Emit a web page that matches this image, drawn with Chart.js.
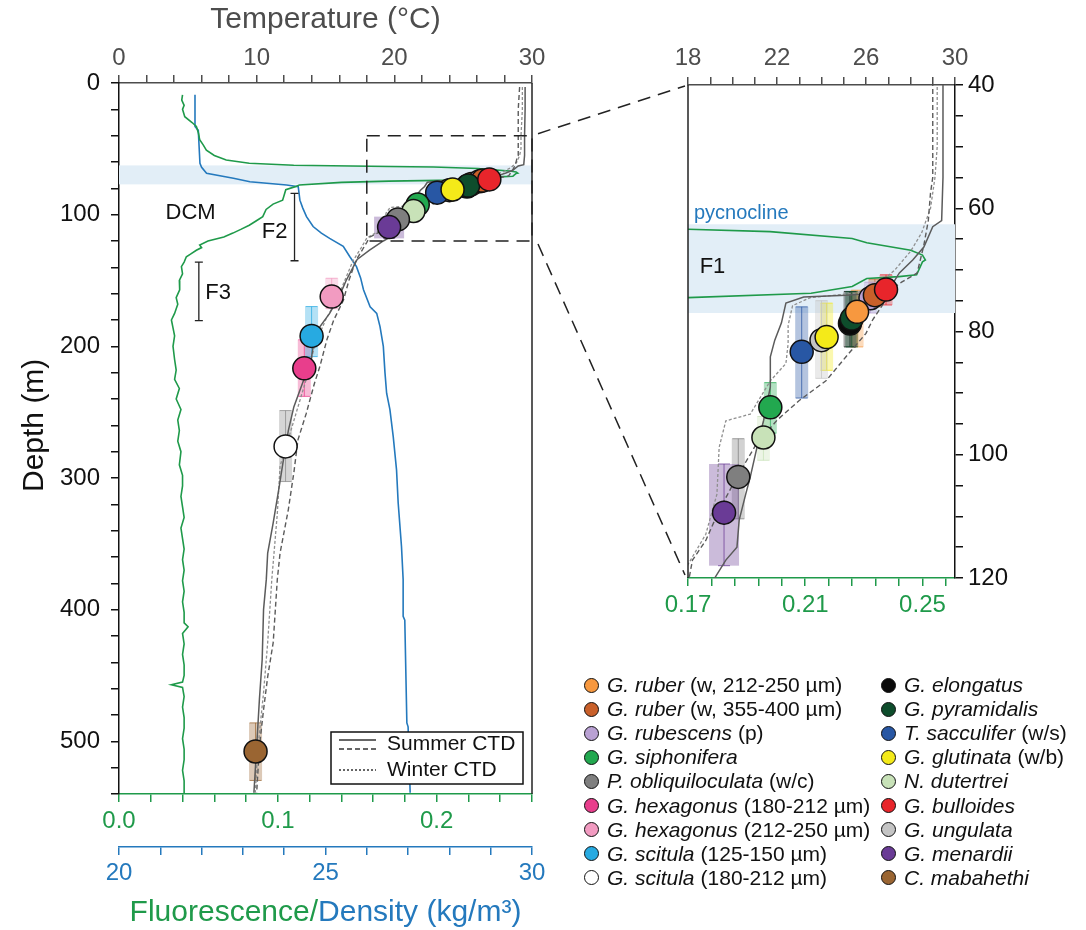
<!DOCTYPE html>
<html>
<head>
<meta charset="utf-8">
<script src="https://cdn.jsdelivr.net/npm/chart.js@4.4.1/dist/chart.umd.min.js"></script>
<style>
  body { margin: 0; background: #fff; width: 1086px; height: 930px; position: relative; overflow: hidden;
         font-family: "Liberation Sans", Arial, sans-serif; }
  #left { position: absolute; left: 0; top: 0; }
  #right { position: absolute; left: 560px; top: 0; }
  #links { position: absolute; left: 0; top: 0; pointer-events: none; }
  .item { position: absolute; height: 24px; line-height: 24px; font-size: 21px; color: #111; white-space: nowrap;
          display: flex; align-items: center; }
  .dot { width: 13px; height: 13px; border: 1.5px solid #111; border-radius: 50%; margin-right: 8px; display: inline-block; }
  .item i { margin-right: 6px; }
</style>
</head>
<body>
<canvas id="left" width="560" height="930"></canvas>
<canvas id="right" width="526" height="640"></canvas>
<canvas id="links" width="1086" height="930"></canvas>
<div id="legend"></div>
<script>
// ---- CTD temperature profiles (depth m / temperature °C) ----
const summerSolidDepth = [3, 20, 40, 55, 62, 63, 66.3, 68.4, 70.5, 72.8, 73.8, 74.1, 74.4, 75.4, 78.6, 81.4, 84.1, 89, 94.4, 98.8, 103.6, 106.3, 110.6, 115, 117.1, 120, 127, 134, 140, 150, 162, 175, 185, 200, 215, 226, 246, 264, 289, 309, 334, 357, 377, 400, 438, 468, 504, 539];
const summerSolidTemp = [29.5, 29.5, 29.46, 29.46, 29.4, 29.0, 28.6, 28.1, 27.5, 27.1, 26.3, 25.1, 23.2, 22.4, 22.2, 21.9, 21.7, 21.7, 21.4, 21.1, 20.8, 20.6, 20.3, 20.2, 19.7, 19.2, 18.2, 17.3, 17.0, 16.5, 16.0, 15.3, 14.6, 14.1, 13.9, 13.4, 12.7, 12.3, 11.9, 11.6, 11.2, 10.8, 10.7, 10.5, 10.4, 10.2, 10.0, 9.8];

const summerDashDepth = [3, 20, 40, 55, 57.5, 62, 66, 70.5, 72, 73, 75.4, 78.1, 80.3, 84.1, 88, 91.2, 94.4, 98.1, 103.6, 109, 113.9, 117.1, 121, 128, 135, 150, 165, 180, 195, 215, 228, 251, 271, 296, 324, 357, 377, 425, 451, 476, 504, 539];
const summerDashTemp = [29.1, 29.0, 29.0, 29.0, 28.9, 28.8, 28.6, 28.3, 27.6, 27.2, 26.8, 26.3, 26.0, 25.1, 24.2, 23.0, 22.0, 21.1, 20.2, 19.4, 18.8, 18.2, 18.0, 17.6, 17.2, 16.7, 16.3, 15.6, 15.1, 14.6, 14.2, 13.6, 13.0, 12.7, 12.3, 11.7, 11.5, 11.2, 10.8, 10.5, 10.2, 10.0];

const winterDepth = [3, 20, 40, 50, 55, 60, 64, 67, 70, 72.5, 73.8, 74.5, 75.8, 79, 82, 85.2, 88, 93.4, 94.5, 98.8, 106.4, 112.9, 117.8, 125, 135, 150, 165, 180, 200, 225, 260, 291, 327, 377, 425, 463, 504, 539];
const winterTemp = [29.3, 29.3, 29.2, 29.2, 29.1, 28.9, 28.5, 28.0, 27.3, 26.5, 25.5, 23.5, 22.7, 22.5, 22.5, 22.4, 21.7, 20.8, 19.7, 19.4, 19.3, 18.8, 18.0, 17.6, 17.0, 16.4, 15.8, 15.0, 14.2, 13.6, 12.6, 11.7, 11.5, 11.1, 10.8, 10.5, 10.1, 9.9];

// ---- fluorescence profile ----
const fluoDepth = [9, 13, 17, 20, 25.6, 30, 33, 38, 43, 47, 51, 55, 58.5, 61, 62.5, 63.4, 63.8, 64.9, 65.6, 66.8, 67.6, 68.4, 68.7, 70.8, 71.1, 71.4, 72.7, 73.8, 74.5, 75.5, 77.5, 78.7, 81, 85, 89, 92, 96, 101.5, 105, 108, 111, 114, 117, 120, 123, 125, 127, 130, 132, 136, 139.5, 145, 150, 157, 163, 168, 175, 180, 186, 192, 200, 210, 218, 225, 232, 240, 248, 256, 264, 272, 280, 290, 298, 306, 314, 322, 330, 338, 346, 354, 362, 370, 378, 386, 394, 402, 410, 413, 418, 426, 434, 442, 450, 455, 457, 459, 466, 474, 482, 490, 498, 506, 514, 522, 530, 540];
const fluoValue = [0.040, 0.0395, 0.041, 0.040, 0.0414, 0.046, 0.0487, 0.050, 0.0508, 0.053, 0.055, 0.060, 0.0675, 0.082, 0.110, 0.170, 0.198, 0.226, 0.231, 0.246, 0.250, 0.251, 0.250, 0.248, 0.242, 0.231, 0.226, 0.212, 0.170, 0.140, 0.1135, 0.111, 0.105, 0.104, 0.103, 0.097, 0.0926, 0.0905, 0.086, 0.082, 0.077, 0.0717, 0.066, 0.056, 0.0508, 0.052, 0.0487, 0.045, 0.0424, 0.041, 0.0393, 0.040, 0.038, 0.0382, 0.036, 0.037, 0.035, 0.033, 0.034, 0.035, 0.034, 0.035, 0.036, 0.035, 0.038, 0.036, 0.039, 0.037, 0.038, 0.037, 0.039, 0.038, 0.040, 0.040, 0.039, 0.040, 0.041, 0.039, 0.040, 0.041, 0.040, 0.041, 0.040, 0.041, 0.040, 0.041, 0.041, 0.0435, 0.040, 0.041, 0.040, 0.041, 0.041, 0.040, 0.033, 0.040, 0.041, 0.040, 0.041, 0.041, 0.040, 0.041, 0.041, 0.040, 0.041, 0.041];

// ---- density profile (kg/m3) ----
const densDepth = [9, 33, 36, 61, 64, 68.6, 72.4, 75, 77.5, 78.7, 89, 95, 101.5, 109, 114, 118, 124, 132, 139.5, 148, 157, 170, 175, 185, 200, 220, 235.6, 248, 268.6, 293.8, 319, 352, 377, 405, 408, 486, 489, 539];
const densValue = [21.84, 21.84, 21.92, 21.96, 22.0, 22.12, 22.77, 23.17, 24.06, 24.34, 24.38, 24.45, 24.54, 24.7, 24.9, 25.1, 25.43, 25.59, 25.75, 25.85, 25.92, 26.08, 26.24, 26.32, 26.4, 26.44, 26.48, 26.56, 26.64, 26.72, 26.76, 26.84, 26.88, 26.88, 26.92, 26.97, 27.0, 27.05];

// ---- foraminifera species: calcification temperature & depth ----
const spName = ['G. ruber', 'G. ruber', 'G. rubescens', 'G. siphonifera', 'P. obliquiloculata', 'G. hexagonus', 'G. hexagonus', 'G. scitula', 'G. scitula',
                'G. elongatus', 'G. pyramidalis', 'T. sacculifer', 'G. glutinata', 'N. dutertrei', 'G. bulloides', 'G. ungulata', 'G. menardii', 'C. mabahethi'];
const spNote = ['(w, 212-250 µm)', '(w, 355-400 µm)', '(p)', '', '(w/c)', '(180-212 µm)', '(212-250 µm)', '(125-150 µm)', '(180-212 µm)',
                '', '', '(w/s)', '(w/b)', '', '', '', '', ''];
const spColor = ['#f7983f', '#c9602a', '#b9a1d3', '#22a84f', '#7f7f7f', '#e83e8c', '#f29bc1', '#27aae1', '#ffffff',
                 '#0a0a0a', '#0e4d2c', '#2857a4', '#f4ea19', '#c8e2b8', '#e8252b', '#c4c4c4', '#6a3b96', '#9a6532'];
const spTemp = [25.6, 26.4, 26.2, 21.7, 20.26, 13.46, 15.45, 13.99, 12.1, 25.28, 25.36, 23.11, 24.23, 21.39, 26.9, 24.0, 19.62, 9.92];
const spDepth = [76.8, 74.1, 74.6, 92.3, 103.6, 216.7, 162.2, 192.1, 276, 78.7, 77.9, 83.3, 80.9, 97.2, 73.2, 81.4, 109.4, 507.7];
const spDepthMin = [73.3, 71.5, 72, 88.3, 97.4, 195, 148.3, 169.8, 248.8, 73.5, 73.5, 76, 75.4, 93.8, 70.8, 75, 101.5, 486];
const spDepthMax = [82.5, 76, 77, 96.5, 110.4, 238, 171.4, 207.8, 302.7, 82.5, 82.5, 90.8, 86.3, 100.9, 75.7, 87.6, 118, 529.7];

// pycnocline band and zoom window
const pycnoTop = 62.6, pycnoBottom = 77;
const zoomTemp = [18, 30], zoomDepth = [40, 120];

// stacking of the circles, bottom -> top
const leftStack = [9, 0, 15, 2, 1, 10, 11, 12, 14, 3, 13, 4, 16, 6, 7, 5, 8, 17];
const rightStack = [9, 10, 15, 12, 11, 2, 1, 0, 14, 3, 13, 4, 16, 6, 7, 5, 8, 17];

const GREEN = '#1f9a4a', BLUE = '#2479bd', GRAY = '#4d4d4d', INK = '#111';
const FONT = '"Liberation Sans", Arial, sans-serif';
Chart.defaults.font.family = FONT;

function steps(a, b, step) {
  const out = [];
  for (let k = 0; a + k * step <= b + 1e-9; k++) out.push(+(a + k * step).toFixed(4));
  return out;
}
function rgba(hex, al) {
  const n = parseInt(hex.slice(1), 16);
  return `rgba(${n >> 16},${(n >> 8) & 255},${n & 255},${al})`;
}
function profile(depths, values, axis, color, dash, width, order) {
  return {
    data: depths.map((d, i) => ({ x: values[i], y: d })), xAxisID: axis, yAxisID: 'y',
    showLine: true, pointRadius: 0, borderColor: color, borderWidth: width, borderDash: dash, tension: 0, order
  };
}
function speciesSets(stack) {
  return spName.map((n, i) => ({
    data: [{ x: spTemp[i], y: spDepth[i] }], xAxisID: 't', yAxisID: 'y',
    pointRadius: 11.5, pointBackgroundColor: spColor[i], pointBorderColor: INK, pointBorderWidth: 1.5,
    showLine: false, order: 50 - stack.indexOf(i)
  }));
}
function axis(o) {
  return {
    type: 'linear', position: o.pos, min: o.min, max: o.max, reverse: !!o.reverse, weight: o.weight || 0,
    afterBuildTicks: s => { s.ticks = o.ticks.map(v => ({ value: v })); },
    afterFit: s => { if (o.pos === 'top' || o.pos === 'bottom') s.height = o.size; else s.width = o.size; },
    ticks: { autoSkip: false, maxRotation: 0, padding: o.pad, color: o.color, font: { size: 24 }, callback: o.label },
    grid: { drawOnChartArea: false, tickLength: 8, color: o.color, lineWidth: 1.5 },
    border: { color: o.color, width: 1.5 },
    title: o.title || { display: false }
  };
}

// shaded band + depth-range bars under the data
const bandBars = {
  id: 'bandBars',
  beforeDatasetsDraw(chart) {
    const { ctx, chartArea: a, scales: { t, y } } = chart;
    ctx.save();
    ctx.beginPath(); ctx.rect(a.left, a.top, a.right - a.left, a.bottom - a.top); ctx.clip();
    const yb0 = y.getPixelForValue(pycnoTop), yb1 = y.getPixelForValue(pycnoBottom);
    ctx.fillStyle = '#e2eef7';
    ctx.fillRect(a.left, yb0, a.right - a.left, yb1 - yb0);
    spName.forEach((n, i) => {
      const col = spColor[i] === '#ffffff' ? '#8a8a8a' : spColor[i];
      const x = t.getPixelForValue(spTemp[i]);
      const y0 = y.getPixelForValue(spDepthMin[i]), y1 = y.getPixelForValue(spDepthMax[i]);
      const hw = n === 'G. menardii' ? 15 : 6.5;
      ctx.fillStyle = rgba(col, 0.35);
      ctx.fillRect(x - hw, y0, hw * 2, y1 - y0);
      ctx.strokeStyle = rgba(col, 0.75); ctx.lineWidth = 1;
      ctx.beginPath();
      ctx.moveTo(x, y0); ctx.lineTo(x, y1);
      ctx.moveTo(x - 6, y0); ctx.lineTo(x + 6, y0);
      ctx.moveTo(x - 6, y1); ctx.lineTo(x + 6, y1);
      ctx.stroke();
    });
    ctx.restore();
  }
};

function text(ctx, s, x, y, size, color, align) {
  ctx.font = `${size}px ${FONT}`; ctx.fillStyle = color;
  ctx.textAlign = align || 'center'; ctx.textBaseline = 'middle';
  ctx.fillText(s, x, y);
}
function bracket(ctx, x, y0, y1) {
  ctx.strokeStyle = '#222'; ctx.lineWidth = 1.3;
  ctx.beginPath();
  ctx.moveTo(x, y0); ctx.lineTo(x, y1);
  ctx.moveTo(x - 4, y0); ctx.lineTo(x + 4, y0);
  ctx.moveTo(x - 4, y1); ctx.lineTo(x + 4, y1);
  ctx.stroke();
}

const leftDecor = {
  id: 'leftDecor',
  afterDraw(chart) {
    const { ctx, chartArea: a, scales: { t, y } } = chart;
    ctx.save();
    // right frame
    ctx.strokeStyle = '#222'; ctx.lineWidth = 1.5;
    ctx.beginPath(); ctx.moveTo(a.right, a.top); ctx.lineTo(a.right, a.bottom); ctx.stroke();
    // zoom window
    ctx.setLineDash([13, 8]); ctx.lineWidth = 1.5; ctx.strokeStyle = '#222';
    const zx0 = t.getPixelForValue(zoomTemp[0]), zx1 = t.getPixelForValue(zoomTemp[1]);
    const zy0 = y.getPixelForValue(zoomDepth[0]), zy1 = y.getPixelForValue(zoomDepth[1]);
    ctx.strokeRect(zx0, zy0, zx1 - zx0, zy1 - zy0);
    ctx.setLineDash([]);
    // labels
    text(ctx, 'DCM', t.getPixelForValue(5.2), y.getPixelForValue(98.7), 22, INK);
    bracket(ctx, t.getPixelForValue(12.75), y.getPixelForValue(83.8), y.getPixelForValue(135));
    text(ctx, 'F2', t.getPixelForValue(11.3), y.getPixelForValue(113), 22, INK);
    bracket(ctx, t.getPixelForValue(5.8), y.getPixelForValue(136), y.getPixelForValue(180.5));
    text(ctx, 'F3', t.getPixelForValue(7.2), y.getPixelForValue(159.5), 22, INK);
    // depth title
    ctx.save();
    ctx.translate(35, y.getPixelForValue(260));
    ctx.rotate(-Math.PI / 2);
    text(ctx, 'Depth (m)', 0, 0, 30, INK);
    ctx.restore();
    // CTD legend box
    const bx = a.right - 201, by = a.bottom - 62, bw = 192, bh = 52;
    ctx.fillStyle = '#fff'; ctx.fillRect(bx, by, bw, bh);
    ctx.strokeStyle = '#111'; ctx.lineWidth = 1.5; ctx.strokeRect(bx, by, bw, bh);
    const lx0 = bx + 8, lx1 = bx + 45;
    ctx.lineWidth = 1.3; ctx.strokeStyle = '#333';
    ctx.beginPath(); ctx.moveTo(lx0, by + 8); ctx.lineTo(lx1, by + 8); ctx.stroke();
    ctx.setLineDash([5, 3]);
    ctx.beginPath(); ctx.moveTo(lx0, by + 17); ctx.lineTo(lx1, by + 17); ctx.stroke();
    ctx.setLineDash([2, 2]);
    ctx.beginPath(); ctx.moveTo(lx0, by + 38); ctx.lineTo(lx1, by + 38); ctx.stroke();
    ctx.setLineDash([]);
    text(ctx, 'Summer CTD', bx + 56, by + 12, 21, INK, 'left');
    text(ctx, 'Winter CTD', bx + 56, by + 38, 21, INK, 'left');
    // two-colour bottom title
    ctx.font = `30px ${FONT}`;
    const pa = 'Fluorescence/', pb = 'Density (kg/m³)';
    const wa = ctx.measureText(pa).width, wb = ctx.measureText(pb).width;
    const x0 = (a.left + a.right) / 2 - (wa + wb) / 2;
    text(ctx, pa, x0, chart.height - 17, 30, GREEN, 'left');
    text(ctx, pb, x0 + wa, chart.height - 17, 30, BLUE, 'left');
    ctx.restore();
  }
};

const rightDecor = {
  id: 'rightDecor',
  afterDraw(chart) {
    const { ctx, chartArea: a, scales: { t, y } } = chart;
    ctx.save();
    ctx.strokeStyle = '#222'; ctx.lineWidth = 1.5;
    ctx.beginPath(); ctx.moveTo(a.left, a.top); ctx.lineTo(a.left, a.bottom); ctx.stroke();
    text(ctx, 'pycnocline', a.left + 6, y.getPixelForValue(60.8), 20, BLUE, 'left');
    text(ctx, 'F1', t.getPixelForValue(19.1), y.getPixelForValue(69.6), 22, INK);
    ctx.restore();
  }
};

const common = {
  responsive: false, animation: false, events: [],
  plugins: { legend: { display: false }, tooltip: { enabled: false } }
};

const left = new Chart(document.getElementById('left'), {
  type: 'scatter',
  data: {
    datasets: [
      profile(densDepth, densValue, 'd', BLUE, [], 1.6, 104),
      profile(fluoDepth, fluoValue, 'f', GREEN, [], 1.6, 103),
      profile(winterDepth, winterTemp, 't', '#8f8f8f', [3, 2], 1.3, 102),
      profile(summerDashDepth, summerDashTemp, 't', '#5b5b5b', [5, 3], 1.4, 101),
      profile(summerSolidDepth, summerSolidTemp, 't', '#5b5b5b', [], 1.5, 100),
      ...speciesSets(leftStack)
    ]
  },
  options: {
    ...common,
    layout: { padding: { left: 0, right: 28, top: 0, bottom: 0 }, autoPadding: false },
    scales: {
      t: axis({ pos: 'top', min: 0, max: 30, ticks: steps(0, 30, 2), size: 83, pad: 2, color: GRAY,
                label: v => v % 10 === 0 ? String(v) : '',
                title: { display: true, text: 'Temperature (°C)', color: GRAY, font: { size: 30 }, padding: { top: 2, bottom: 0 } } }),
      f: axis({ pos: 'bottom', min: 0, max: 0.26, ticks: steps(0, 0.26, 0.02), size: 53, pad: 5, color: GREEN, weight: 0,
                label: v => Math.abs(v * 10 - Math.round(v * 10)) < 1e-6 ? v.toFixed(1) : '' }),
      d: axis({ pos: 'bottom', min: 20, max: 30, ticks: steps(20, 30, 1), size: 83, pad: 4, color: BLUE, weight: 1,
                label: v => v % 5 === 0 ? String(v) : '' }),
      y: axis({ pos: 'left', min: 0, max: 540, reverse: true, ticks: steps(0, 540, 20), size: 119, pad: 11, color: INK,
                label: v => v % 100 === 0 ? String(v) : '' })
    }
  },
  plugins: [bandBars, leftDecor]
});

const right = new Chart(document.getElementById('right'), {
  type: 'scatter',
  data: {
    datasets: [
      profile(fluoDepth, fluoValue, 'f', GREEN, [], 1.6, 103),
      profile(winterDepth, winterTemp, 't', '#8f8f8f', [3, 2], 1.3, 102),
      profile(summerDashDepth, summerDashTemp, 't', '#5b5b5b', [5, 3], 1.4, 101),
      profile(summerSolidDepth, summerSolidTemp, 't', '#5b5b5b', [], 1.5, 100),
      ...speciesSets(rightStack)
    ]
  },
  options: {
    ...common,
    layout: { padding: { left: 128, right: 0, top: 0, bottom: 0 }, autoPadding: false },
    scales: {
      t: axis({ pos: 'top', min: zoomTemp[0], max: zoomTemp[1], ticks: steps(18, 30, 1), size: 85, pad: 4, color: GRAY,
                label: v => (v - 18) % 4 === 0 ? String(v) : '' }),
      f: axis({ pos: 'bottom', min: 0.17, max: 0.2611, ticks: steps(0.17, 0.26, 0.008), size: 62, pad: 5, color: GREEN,
                label: (v, i) => i % 5 === 0 ? v.toFixed(2) : '' }),
      y: axis({ pos: 'right', min: zoomDepth[0], max: zoomDepth[1], reverse: true, ticks: steps(40, 120, 5), size: 131, pad: 5, color: INK,
                label: v => v % 20 === 0 ? String(v) : '' })
    }
  },
  plugins: [bandBars, rightDecor]
});

// dashed connectors between the zoom window and the inset
(function drawLinks() {
  const ctx = document.getElementById('links').getContext('2d');
  const lt = left.scales.t, ly = left.scales.y, ry = right.scales.y;
  const rx = 560 + right.chartArea.left;
  const lx = lt.getPixelForValue(zoomTemp[1]);
  ctx.strokeStyle = '#222'; ctx.lineWidth = 1.5; ctx.setLineDash([13, 8]);
  ctx.beginPath();
  ctx.moveTo(lx + 6, ly.getPixelForValue(zoomDepth[0]) - 2); ctx.lineTo(rx - 3, ry.getPixelForValue(zoomDepth[0]) + 1);
  ctx.moveTo(lx + 6, ly.getPixelForValue(zoomDepth[1]) + 3); ctx.lineTo(rx - 3, ry.getPixelForValue(zoomDepth[1]) - 3);
  ctx.stroke();
})();

// species legend
(function buildLegend() {
  const box = document.getElementById('legend');
  spName.forEach((n, i) => {
    const col = i < 9 ? 0 : 1, row = i % 9;
    const el = document.createElement('div');
    el.className = 'item';
    el.style.left = (col ? 881 : 584) + 'px';
    el.style.top = (673 + row * 24.1) + 'px';
    el.innerHTML = `<span class="dot" style="background:${spColor[i]}"></span><i>${n}</i>${spNote[i]}`;
    if (!spNote[i]) el.querySelector('i').style.marginRight = '0';
    box.appendChild(el);
  });
})();
</script>
</body>
</html>
